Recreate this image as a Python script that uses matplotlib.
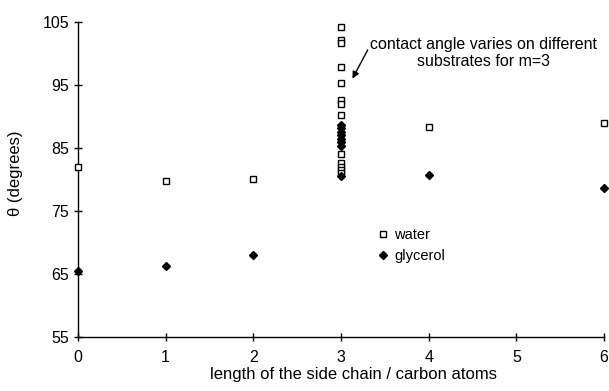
import matplotlib
matplotlib.use("Agg")
import matplotlib.pyplot as plt

plt.rcParams['font.family'] = ['Liberation Sans', 'DejaVu Sans']

# side chain length (carbon atoms) and contact angles (degrees)
water_x = [0, 1, 2, 4, 6] + [3] * 13
water_y = [82.0, 79.7, 80.1, 88.3, 89.0,
           104.2, 102.1, 101.6, 97.9, 95.3, 92.6, 92.0, 90.2,
           84.1, 82.6, 82.0, 81.5, 81.0]

glycerol_x = [0, 1, 2, 4, 6] + [3] * 8
glycerol_y = [65.5, 66.3, 68.0, 80.7, 78.6,
              88.7, 88.2, 87.5, 87.0, 86.5, 86.0, 85.3, 80.6]

fig, ax = plt.subplots(figsize=(6.09, 3.91), dpi=100)
fig.subplots_adjust(left=0.128, right=0.992, top=0.944, bottom=0.138)

ax.plot(water_x, water_y, linestyle='none', marker='s', ms=4.2,
        mfc='white', mec='black', mew=1.0, label='water', clip_on=False, zorder=3)
ax.plot(glycerol_x, glycerol_y, linestyle='none', marker='D', ms=3.6,
        color='black', label='glycerol', clip_on=False, zorder=3)

ax.set_xlim(0, 6)
ax.set_ylim(55, 105)
ax.set_xticks(range(0, 7))
ax.set_yticks(range(55, 106, 10))
ax.tick_params(direction='inout', length=6, width=1, labelsize=11.5)
ax.tick_params(axis='x', pad=6)

for side in ['top', 'right']:
    ax.spines[side].set_visible(False)
for side in ['left', 'bottom']:
    ax.spines[side].set_linewidth(1.0)

ax.set_xlabel('length of the side chain / carbon atoms', fontsize=12,
              labelpad=2, x=0.523)
ax.set_ylabel('θ (degrees)', fontsize=12, labelpad=14, y=0.52)

ax.annotate('contact angle varies on different\nsubstrates for m=3',
            xy=(3.13, 96.0), xytext=(4.63, 100.1),
            ha='center', va='center', fontsize=11.5, linespacing=1.2,
            arrowprops=dict(arrowstyle='-|>', color='black', lw=1.0,
                            shrinkA=0, shrinkB=0, mutation_scale=10,
                            relpos=(0.0, 0.75)))

ax.legend(loc='center left', bbox_to_anchor=(0.54, 0.29), frameon=False,
          fontsize=10.5, handletextpad=0.3, handlelength=1.0, labelspacing=0.45)

plt.savefig('out.png', dpi=100)
